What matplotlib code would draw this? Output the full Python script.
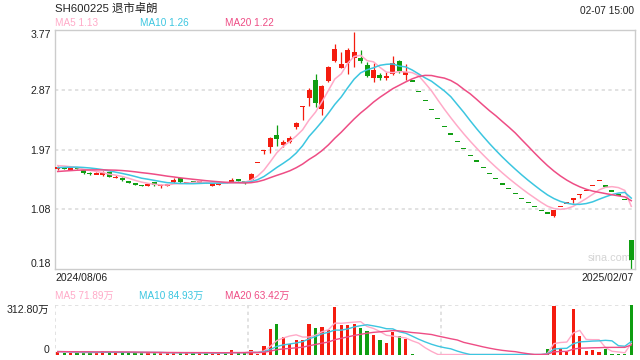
import numpy as np
import pandas as pd
import matplotlib
matplotlib.use("Agg")
import matplotlib.pyplot as plt

plt.rcParams['font.family'] = ['Liberation Sans', 'Noto Sans CJK SC', 'DejaVu Sans']

# ---------------- data ----------------
title = "SH600225 退市卓朗"
time_label = "02-07 15:00"
start_date = "2024/08/06"
end_date = "2025/02/07"
watermark = "sina.com"

price_ticks = [3.77, 2.87, 1.97, 1.08, 0.18]
price_tick_labels = ["3.77", "2.87", "1.97", "1.08", "0.18"]
vol_ticks = [312.80, 0]
vol_tick_labels = ["312.80万", "0"]

ma_labels = ["MA5 1.13", "MA10 1.26", "MA20 1.22"]
vol_ma_labels = ["MA5 71.89万", "MA10 84.93万", "MA20 63.42万"]

pre_closes = [1.55, 1.56, 1.57, 1.56, 1.58, 1.59, 1.60, 1.61, 1.60, 1.62,
              1.64, 1.66, 1.68, 1.67, 1.69, 1.72, 1.74, 1.75, 1.74]
pre_volumes = [20, 22, 19, 21, 20, 23, 22, 20, 21, 22,
               23, 22, 21, 24, 22, 23, 22, 21, 22]

opens = [1.695, 1.695, 1.680, 1.700, 1.663, 1.615, 1.605, 1.598, 1.637, 1.548,
         1.547, 1.485, 1.455, 1.435, 1.427, 1.477, 1.428, 1.435, 1.477, 1.547,
         1.475, 1.482, 1.478, 1.480, 1.435, 1.452, 1.475, 1.500, 1.512, 1.490,
         1.512, 1.777, 1.955, 2.002, 2.187, 2.037, 2.087, 2.312, 2.613, 2.747,
         3.012, 2.582, 3.002, 3.302, 3.188, 3.262, 3.350, 3.342, 3.237, 3.047,
         3.087, 3.040, 3.097, 3.297, 3.087, 2.998, 2.843, 2.708, 2.573, 2.438,
         2.318, 2.203, 2.093, 1.988, 1.883, 1.798, 1.703, 1.613, 1.538, 1.453,
         1.388, 1.313, 1.238, 1.178, 1.118, 1.058, 1.018, 0.978, 1.117, 1.170,
         1.232, 1.297, 1.357, 1.432, 1.507, 1.423, 1.353, 1.288, 1.223, 0.6125]
highs = [1.718, 1.705, 1.700, 1.715, 1.670, 1.635, 1.630, 1.650, 1.640, 1.585,
         1.555, 1.500, 1.465, 1.440, 1.465, 1.485, 1.460, 1.455, 1.550, 1.550,
         1.485, 1.490, 1.495, 1.490, 1.445, 1.470, 1.480, 1.550, 1.525, 1.495,
         1.612, 1.778, 1.958, 2.162, 2.337, 2.112, 2.172, 2.382, 2.617, 2.887,
         3.102, 2.937, 3.222, 3.552, 3.427, 3.497, 3.730, 3.462, 3.277, 3.272,
         3.122, 3.137, 3.377, 3.312, 3.252, 2.998, 2.843, 2.708, 2.573, 2.438,
         2.318, 2.203, 2.093, 1.988, 1.883, 1.798, 1.703, 1.613, 1.538, 1.453,
         1.388, 1.313, 1.238, 1.178, 1.118, 1.058, 1.018, 1.062, 1.118, 1.171,
         1.233, 1.298, 1.358, 1.433, 1.508, 1.423, 1.353, 1.288, 1.223, 0.6125]
lows = [1.670, 1.680, 1.665, 1.680, 1.610, 1.590, 1.605, 1.580, 1.555, 1.545,
        1.500, 1.465, 1.435, 1.425, 1.420, 1.425, 1.400, 1.430, 1.470, 1.470,
        1.470, 1.470, 1.470, 1.470, 1.420, 1.440, 1.465, 1.490, 1.500, 1.455,
        1.510, 1.777, 1.907, 1.922, 2.027, 2.012, 2.062, 2.272, 2.417, 2.622,
        2.602, 2.487, 2.987, 3.287, 3.187, 3.097, 3.210, 3.262, 3.062, 2.977,
        3.012, 3.012, 3.087, 3.112, 3.012, 2.997, 2.842, 2.707, 2.572, 2.437,
        2.317, 2.202, 2.092, 1.987, 1.882, 1.797, 1.702, 1.612, 1.537, 1.452,
        1.387, 1.312, 1.237, 1.177, 1.117, 1.057, 1.017, 0.962, 1.117, 1.170,
        1.172, 1.247, 1.357, 1.432, 1.507, 1.422, 1.352, 1.287, 1.222, 0.18]
closes = [1.700, 1.690, 1.685, 1.690, 1.615, 1.610, 1.610, 1.602, 1.562, 1.552,
          1.507, 1.480, 1.445, 1.430, 1.457, 1.437, 1.432, 1.440, 1.512, 1.477,
          1.478, 1.478, 1.482, 1.475, 1.440, 1.458, 1.470, 1.507, 1.508, 1.470,
          1.597, 1.778, 1.958, 2.147, 2.132, 2.082, 2.142, 2.362, 2.617, 2.862,
          2.672, 2.922, 3.207, 3.477, 3.252, 3.462, 3.430, 3.297, 3.077, 3.162,
          3.047, 3.070, 3.262, 3.152, 3.137, 2.997, 2.842, 2.707, 2.572, 2.437,
          2.317, 2.202, 2.092, 1.987, 1.882, 1.797, 1.702, 1.612, 1.537, 1.452,
          1.387, 1.312, 1.237, 1.177, 1.117, 1.057, 1.017, 1.062, 1.118, 1.171,
          1.233, 1.298, 1.358, 1.433, 1.508, 1.422, 1.352, 1.287, 1.222, 0.31]
volumes = [16, 14, 15, 13, 18, 15, 14, 27, 17, 15,
           16, 14, 15, 13, 15, 14, 13, 12, 16, 15,
           13, 12, 12, 13, 12, 12, 12, 30, 14, 15,
           30, 6, 58, 163, 194, 111, 69, 94, 94, 194,
           169, 177, 156, 302, 188, 188, 194, 171, 152, 125,
           94, 75, 146, 119, 100, 4, 3, 3, 3, 3,
           3, 3, 3, 3, 3, 3, 3, 3, 3, 3,
           3, 3, 3, 3, 3, 4, 37.5, 309, 37.5, 17,
           288, 119, 25, 31, 17, 37.5, 6, 4, 4, 312.8]

# ---------------- style ----------------
RED = "#f41c0f"
GREEN = "#0f9e12"
MA_COLORS = ["#ffaac8", "#3cc6e0", "#ee4d85"]
GRID = "#dddddd"
FRAME = "#cccccc"
TXT = "#222222"

n = len(closes)
x = np.arange(n)
o = np.array(opens); h = np.array(highs); l = np.array(lows); c = np.array(closes)
up = c >= o
cols = np.where(up, RED, GREEN)

all_c = pd.Series(pre_closes + closes)
all_v = pd.Series(pre_volumes + volumes)
mas = [all_c.rolling(w).mean().values[-n:] for w in (5, 10, 20)]
vmas = [all_v.rolling(w).mean().values[-n:] for w in (5, 10, 20)]

fig = plt.figure(figsize=(6.4, 3.6), dpi=100)
W, H = 640.0, 360.0
L, R = 54.5, 634.5
ax = fig.add_axes([L / W, 1 - 269 / H, (R - L) / W, (269 - 29.5) / H])
axv = fig.add_axes([L / W, 1 - 355 / H, (R - L) / W, (355 - 305) / H])

# ---- price panel ----
ax.set_xlim(-0.5, n - 0.5)
ax.set_ylim(price_ticks[-1], price_ticks[0])
for yv in price_ticks[1:-1]:
    ax.axhline(yv, color=GRID, lw=1.2, ls=(0, (2, 2)), zorder=0)
ax.vlines(x, l, h, colors=cols, lw=0.9, zorder=2)
minh = 0.024
body_bot = np.minimum(o, c)
body_h = np.abs(c - o)
flat = body_h < minh
body_bot = np.where(flat, (o + c) / 2 - minh / 2, body_bot)
body_h = np.where(flat, minh, body_h)
ax.bar(x, body_h, bottom=body_bot, width=0.76, color=cols, lw=0, zorder=3)
for ma, col in zip(mas, MA_COLORS):
    ax.plot(x, ma, color=col, lw=1.1, zorder=4)
ax.set_yticks(price_ticks)
ax.set_yticklabels(price_tick_labels)
ax.set_xticks([])
ax.tick_params(axis='y', length=0, pad=2.5, labelsize=7.6, labelcolor=TXT)
tl = ax.get_yticklabels()
tl[0].set_va('top'); tl[-1].set_va('bottom')
for s in ax.spines.values():
    s.set_color(FRAME); s.set_linewidth(1.0)
ax.text(0.995, 0.045, watermark, transform=ax.transAxes, ha='right', va='center',
        fontsize=7.8, color="#d4d4d4", zorder=1)

# ---- volume panel ----
axv.set_xlim(-0.5, n - 0.5)
axv.set_ylim(0, max(volumes))
axv.bar(x, volumes, width=0.5, color=cols, lw=0, zorder=2)
for vm, col in zip(vmas, MA_COLORS):
    axv.plot(x, vm, color=col, lw=1.0, zorder=3)
for s in axv.spines.values():
    s.set_visible(False)
axv.axhline(max(volumes), color=GRID, lw=1.2, ls=(0, (2, 2)), zorder=0)
for fx in (0, 1 / 3, 2 / 3):
    axv.axvline(-0.5 + n * fx, color=GRID, lw=1.2, ls=(0, (2, 2)), zorder=0)
axv.set_yticks(vol_ticks)
axv.set_yticklabels(vol_tick_labels)
axv.set_xticks([])
axv.tick_params(axis='y', length=0, pad=4, labelsize=7.6, labelcolor=TXT)
vl = axv.get_yticklabels()
vl[0].set_va('top'); vl[1].set_va('bottom')

# ---- texts ----
fig.text(55 / W, 1 - 8.5 / H, title, fontsize=8.2, color=TXT, ha='left', va='center')
fig.text(634 / W, 1 - 11.5 / H, time_label, fontsize=7.3, color=TXT, ha='right', va='center')
for lab, col, px in zip(ma_labels, MA_COLORS, (55, 140, 225)):
    fig.text(px / W, 1 - 23.5 / H, lab, fontsize=7.2, color=col, ha='left', va='center')
fig.text(55 / W, 1 - 278 / H, start_date, fontsize=7.5, color=TXT, ha='left', va='center')
fig.text(634 / W, 1 - 278 / H, end_date, fontsize=7.5, color=TXT, ha='right', va='center')
for lab, col, px in zip(vol_ma_labels, MA_COLORS, (55, 139, 225)):
    fig.text(px / W, 1 - 295.5 / H, lab, fontsize=7.2, color=col, ha='left', va='center')

fig.savefig("out.png", dpi=100)
